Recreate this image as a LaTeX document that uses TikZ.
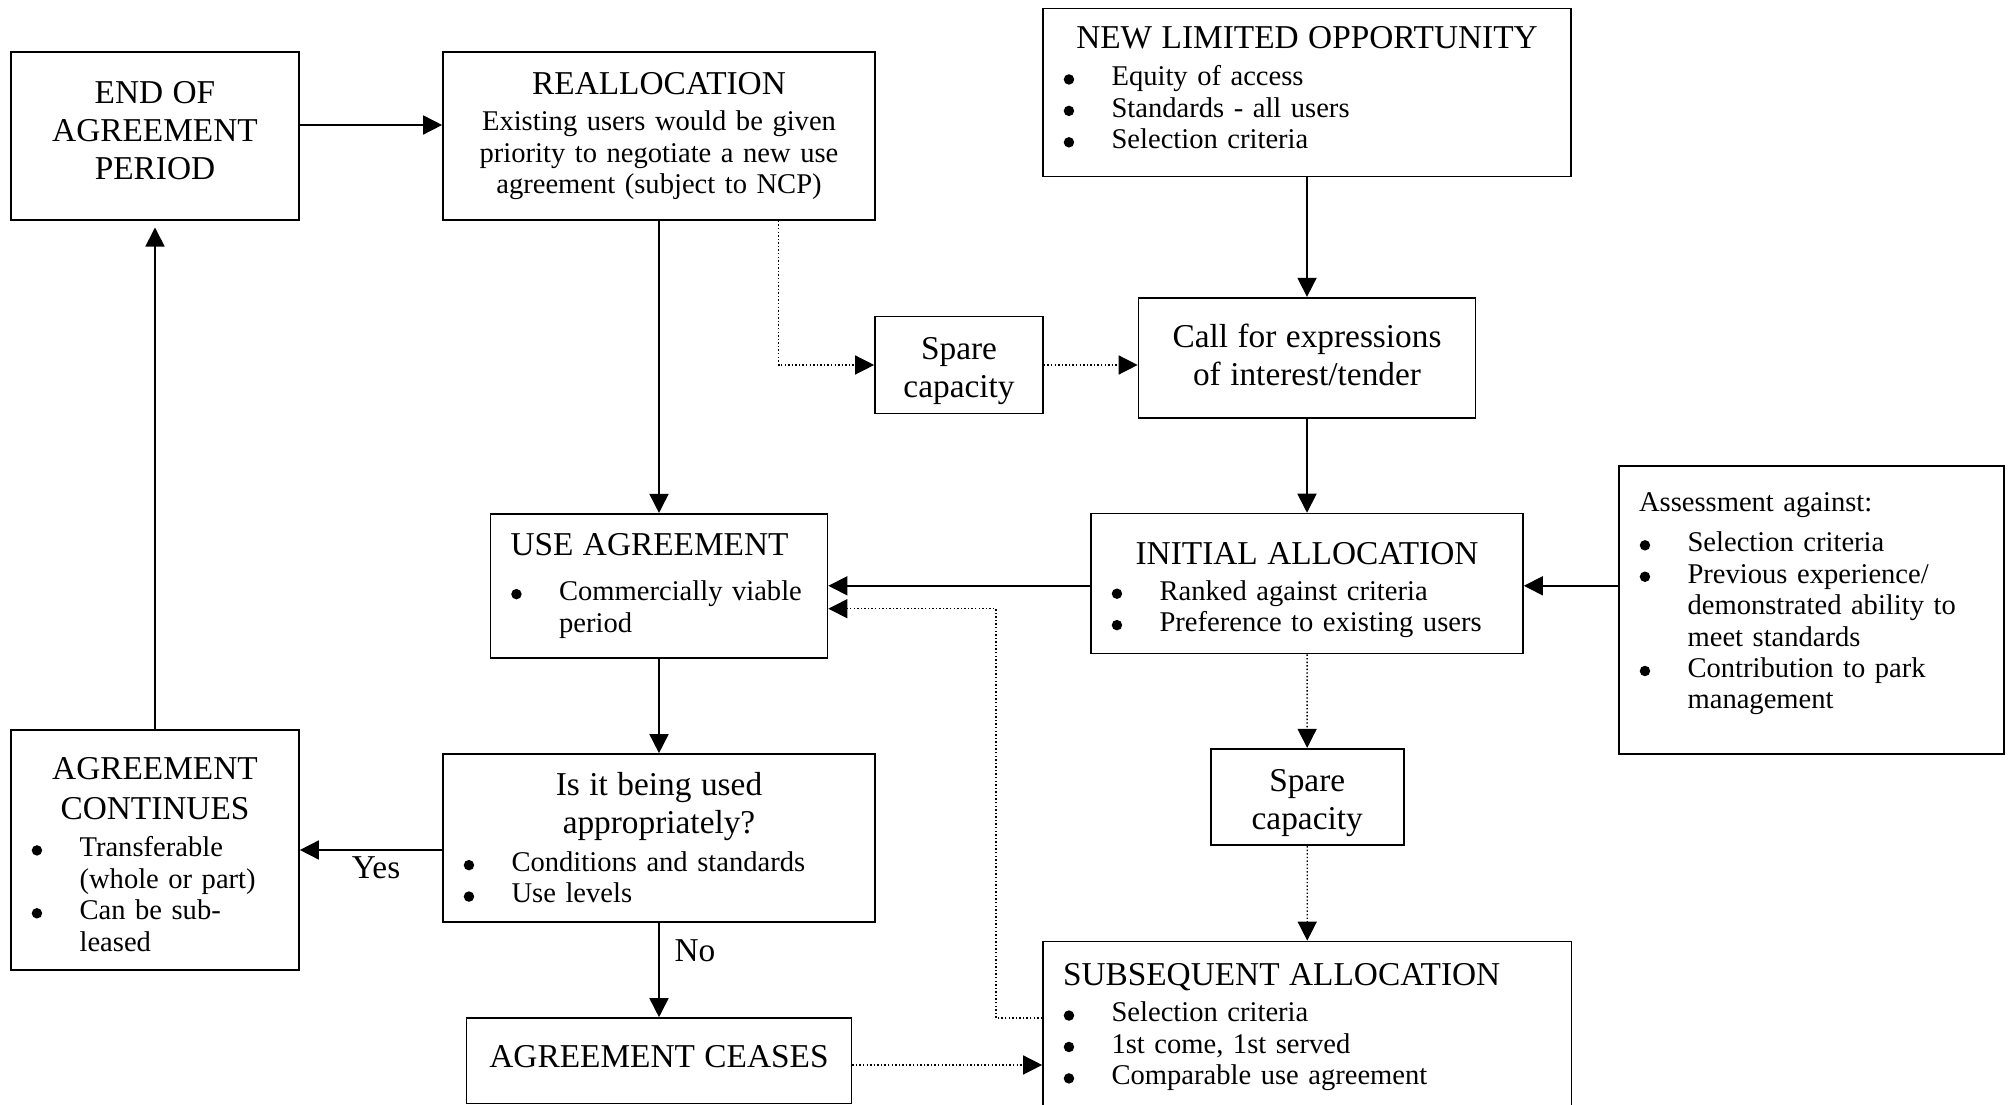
\documentclass[tikz,border=0pt]{standalone}
\usepackage{fontspec}
\setmainfont{Liberation Serif}
\usepackage{tikz}
\usetikzlibrary{arrows.meta}

\newcommand{\hdfont}{\fontsize{14}{16}\selectfont}
\newcommand{\bdfont}{\fontsize{12}{13.2}\selectfont}
\newcommand{\boxhead}[1]{{\centering\hdfont #1\par}}
\newcommand{\boxheadl}[1]{{\hdfont #1\par}}
\newcommand{\bdot}{\tikz[baseline=-2.7pt]\fill (0,0) circle (2.2pt);}
\newcommand{\bpt}[1]{\par\noindent\hangindent=20.4pt\hangafter=1%
  \makebox[20.4pt][l]{\hspace{0.3pt}\bdot}#1\par}
% trailing kern: positive lifts the text, negative lowers it
\newcommand{\vadj}[1]{\par\kern#1\relax}

\begin{document}
\begin{tikzpicture}[x=0.42pt,y=-0.42pt,
  box/.style={draw,line width=0.7pt,inner xsep=8.4pt,inner ysep=2pt,align=left,font=\bdfont},
  arrowline/.style={line width=0.7pt,-{Triangle[length=8pt,width=8pt]}},
  dotline/.style={line width=0.6pt,dash pattern=on 0.6pt off 0.9pt,-{Triangle[length=8pt,width=8pt]}},
  lbl/.style={font=\hdfont,inner sep=0pt}]
\useasboundingbox (0,0) rectangle (2011,1105);

%Box: end of agreement
\node[box,minimum width=120.96pt,minimum height=70.56pt,text width=104.16pt] (endagr) at (155,136)
  {\boxhead{END OF\\AGREEMENT\\PERIOD}\vadj{4.3pt}};
%Box: reallocation
\node[box,minimum width=181.44pt,minimum height=70.56pt,text width=164.64pt] (realloc) at (659,136)
  {\boxhead{REALLOCATION}\vspace{2.3pt}{\centering Existing users would be given\\priority to negotiate a new use\\agreement (subject to NCP)\par}};
%Box: new limited opportunity
\node[box,minimum width=221.76pt,minimum height=70.56pt,text width=204.96pt] (newopp) at (1307,92.5)
  {\boxhead{NEW LIMITED OPPORTUNITY}\vspace{2.3pt}\bpt{Equity of access}\bpt{Standards - all users}\bpt{Selection criteria}\vadj{3.8pt}};
%Box: call for expressions
\node[box,minimum width=141.54pt,minimum height=50.4pt,text width=124.74pt] (callexp) at (1307,357.7)
  {\boxhead{Call for expressions\\of interest/tender}\vadj{2.2pt}};
%Box: spare capacity (top)
\node[box,minimum width=70.56pt,minimum height=40.74pt,text width=53.76pt] (spareA) at (959,365)
  {\boxhead{Spare\\capacity}\vadj{-4.8pt}};
%Box: use agreement
\node[box,minimum width=141.54pt,minimum height=60.48pt,text width=124.74pt] (useagr) at (659,585.8)
  {\boxheadl{USE AGREEMENT}\vspace{5.7pt}\bpt{Commercially viable\newline period}};
%Box: initial allocation
\node[box,minimum width=181.44pt,minimum height=58.8pt,text width=164.64pt] (initial) at (1307,583.6)
  {\boxhead{INITIAL ALLOCATION}\vspace{1.8pt}\bpt{Ranked against criteria}\bpt{Preference to existing users}\vadj{-5.4pt}};
%Box: assessment
\node[box,minimum width=161.7pt,minimum height=120.96pt,text width=144.9pt] (assess) at (1811.5,610)
  {Assessment against:\par\vspace{3.5pt}\bpt{Selection criteria}\bpt{Previous experience/\newline demonstrated ability to\newline meet standards}\bpt{Contribution to park\newline management}\vadj{5pt}};
%Box: spare capacity (lower)
\node[box,minimum width=81.06pt,minimum height=40.53pt,text width=64.26pt] (spareB) at (1307.2,797)
  {\boxhead{Spare\\capacity}\vadj{-5.4pt}};
%Box: used appropriately
\node[box,minimum width=181.44pt,minimum height=70.56pt,text width=164.64pt] (usedq) at (659,838)
  {\boxhead{Is it being used\\appropriately?}\vspace{2.6pt}\bpt{Conditions and standards}\bpt{Use levels}};
%Box: agreement continues
\node[box,minimum width=120.96pt,minimum height=100.8pt,text width=104.16pt] (contin) at (155,850)
  {\boxhead{\baselineskip=16.8pt AGREEMENT\\CONTINUES}\vspace{2.4pt}\bpt{Transferable\newline (whole or part)}\bpt{Can be sub-\newline leased}\vadj{-3.8pt}};
%Box: agreement ceases
\node[box,minimum width=161.7pt,minimum height=35.83pt,text width=144.9pt] (ceases) at (659,1060.7)
  {\boxhead{AGREEMENT CEASES}\vadj{3.2pt}};
%Box: subsequent allocation
\node[box,minimum width=221.97pt,minimum height=71.82pt,text width=205.17pt] (subseq) at (1307.25,1027)
  {\boxheadl{SUBSEQUENT ALLOCATION}\vspace{2.3pt}\bpt{Selection criteria}\bpt{1st come, 1st served}\bpt{Comparable use agreement}};

% Text Node
\node[lbl] (yes) at (376,867.7) {Yes};
% Text Node
\node[lbl] (no) at (695,951) {No};

%Straight Lines
\draw[arrowline] ([yshift=4.62pt]endagr.east) -- ([yshift=4.62pt]realloc.west);
\draw[arrowline,shorten >=2.8pt] (contin) -- (endagr);
\draw[arrowline] (realloc) -- (useagr);
\draw[arrowline] (useagr) -- (usedq);
\draw[arrowline] (usedq) -- (ceases);
\draw[arrowline] (usedq.west |- contin.east) -- (contin.east);
\draw[arrowline] (newopp) -- (callexp);
\draw[arrowline] (callexp) -- (initial);
\draw[arrowline] (initial.west |- useagr.east) -- (useagr.east);
\draw[arrowline] (assess.west |- useagr.east) -- (initial.east |- useagr.east);

%Dotted Lines
\coordinate (rsplit) at (778.7,365);
\draw[dotline] (realloc.south -| rsplit) -- (rsplit) -- (spareA.west);
\draw[dotline] (spareA.east) -- (spareA.east -| callexp.west);
\draw[dotline] (initial) -- (spareB);
\draw[dotline] (spareB) -- (subseq);
\coordinate (ceasout) at ([yshift=-1.8pt]ceases.east);
\draw[dotline] (ceasout) -- (ceasout -| subseq.west);
\coordinate (fblow) at (996,1018);
\coordinate (fbhigh) at (996,608.7);
\draw[dotline] (subseq.west |- fblow) -- (fblow) -- (fbhigh) -- (useagr.east |- fbhigh);

\end{tikzpicture}
\end{document}
